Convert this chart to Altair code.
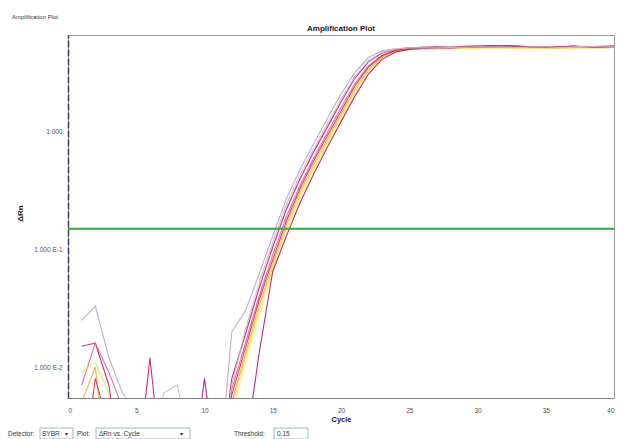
import altair as alt
import pandas as pd

cycles = list(range(1, 41))

series_names = ["W1", "W2", "W3", "W4", "W5", "W6", "W7", "W8", "W9"]
series_colors = ["#c2186f", "#e2619b", "#e8e24c", "#eab03c", "#b9a4cc",
                 "#d42c4e", "#f2ee86", "#a8187c", "#d9b3c9"]

w1 = [0.015, 0.016, 0.007, 0.001, 0.001, 0.012, 0.001, 0.001, 0.001, 0.001, 0.001,
      0.008, 0.019, 0.047, 0.105, 0.22, 0.40, 0.68, 1.1, 1.8, 2.85, 3.95, 4.7, 5.05, 5.2,
      5.25, 5.3, 5.25, 5.35, 5.4, 5.45, 5.4, 5.35, 5.3, 5.3, 5.25, 5.35, 5.3, 5.35, 5.4]
w2 = [0.007, 0.016, 0.009, 0.0045, 0.001, 0.001, 0.001, 0.001, 0.001, 0.001, 0.001,
      0.0065, 0.016, 0.040, 0.09, 0.19, 0.35, 0.60, 0.98, 1.6, 2.55, 3.65, 4.5, 4.95, 5.1,
      5.15, 5.2, 5.2, 5.25, 5.3, 5.35, 5.3, 5.3, 5.25, 5.2, 5.25, 5.3, 5.3, 5.25, 5.3]
w3 = [0.009, 0.011, 0.006, 0.001, 0.001, 0.001, 0.001, 0.001, 0.001, 0.001, 0.001,
      0.0045, 0.012, 0.030, 0.070, 0.15, 0.29, 0.50, 0.82, 1.35, 2.2, 3.3, 4.3, 4.85, 5.05,
      5.1, 5.1, 5.15, 5.15, 5.2, 5.2, 5.2, 5.15, 5.2, 5.15, 5.2, 5.25, 5.2, 5.25, 5.25]
w4 = [0.005, 0.010, 0.001, 0.001, 0.001, 0.001, 0.001, 0.001, 0.001, 0.001, 0.001,
      0.005, 0.013, 0.033, 0.076, 0.163, 0.31, 0.53, 0.87, 1.42, 2.3, 3.4, 4.35, 4.9, 5.05,
      5.1, 5.15, 5.15, 5.2, 5.2, 5.25, 5.2, 5.2, 5.2, 5.25, 5.15, 5.2, 5.25, 5.2, 5.25]
w5 = [0.025, 0.033, 0.012, 0.006, 0.004, 0.001, 0.001, 0.001, 0.001, 0.001, 0.001,
      0.02, 0.03, 0.062, 0.13, 0.27, 0.48, 0.80, 1.3, 2.1, 3.2, 4.3, 4.9, 5.1, 5.2,
      5.25, 5.25, 5.3, 5.3, 5.35, 5.3, 5.3, 5.25, 5.3, 5.25, 5.3, 5.3, 5.25, 5.3, 5.3]
w6 = [0.001, 0.008, 0.003, 0.001, 0.001, 0.001, 0.001, 0.001, 0.001, 0.001, 0.001,
      0.0058, 0.0145, 0.037, 0.082, 0.175, 0.33, 0.57, 0.93, 1.5, 2.45, 3.55, 4.45, 4.95, 5.15,
      5.2, 5.25, 5.25, 5.3, 5.35, 5.4, 5.45, 5.4, 5.3, 5.25, 5.3, 5.35, 5.3, 5.3, 5.35]
w7 = [0.001, 0.001, 0.001, 0.001, 0.001, 0.001, 0.001, 0.001, 0.001, 0.001, 0.001,
      0.004, 0.011, 0.027, 0.064, 0.14, 0.27, 0.47, 0.78, 1.28, 2.1, 3.2, 4.2, 4.8, 5.0,
      5.05, 5.1, 5.1, 5.15, 5.15, 5.2, 5.15, 5.2, 5.15, 5.2, 5.2, 5.15, 5.2, 5.2, 5.25]
w8 = [0.001, 0.001, 0.001, 0.001, 0.001, 0.001, 0.001, 0.001, 0.001, 0.008, 0.001,
      0.001, 0.002, 0.013, 0.065, 0.13, 0.25, 0.44, 0.74, 1.22, 2.0, 3.1, 4.15, 4.8, 5.05,
      5.15, 5.2, 5.2, 5.25, 5.3, 5.3, 5.35, 5.3, 5.3, 5.25, 5.3, 5.4, 5.3, 5.25, 5.3]
w9 = [0.001, 0.001, 0.001, 0.001, 0.001, 0.001, 0.006, 0.007, 0.002, 0.001, 0.001,
      0.007, 0.021, 0.052, 0.115, 0.24, 0.43, 0.72, 1.17, 1.9, 2.95, 4.05, 4.75, 5.1, 5.2,
      5.2, 5.2, 5.25, 5.25, 5.3, 5.3, 5.3, 5.25, 5.3, 5.3, 5.25, 5.3, 5.35, 5.3, 5.3]

series_values = [w1, w2, w3, w4, w5, w6, w7, w8, w9]

threshold = [0.15]
y_ticks = [0.01, 0.1, 1]
x_ticks = [0, 5, 10, 15, 20, 25, 30, 35, 40]

rows = []
for name, vals in zip(series_names, series_values):
    for c, v in zip(cycles, vals):
        rows.append({"series": name, "cycle": c, "drn": v})
df = pd.DataFrame(rows)

FONT = "Liberation Sans"
W, H = 546, 363

x_scale = alt.Scale(domain=[0, 40], nice=False, zero=False)
y_scale = alt.Scale(type="log", domain=[0.00545, 6.69], nice=False)

lines = alt.Chart(df).mark_line(strokeWidth=1.1, clip=True, opacity=0.9).encode(
    x=alt.X("cycle:Q", scale=x_scale,
            axis=alt.Axis(values=x_ticks, title="Cycle", grid=False, ticks=False,
                          labelFontSize=6.5, labelColor="#555", labelPadding=9,
                          titleFontSize=7.5, titleFontWeight="bold", titleColor="#223",
                          titlePadding=2, domainColor="#777", domainDash=[6, 2],
                          labelFont=FONT, titleFont=FONT)),
    y=alt.Y("drn:Q", scale=y_scale,
            axis=alt.Axis(values=y_ticks, title="ΔRn", grid=False, ticks=False,
                          labelExpr="datum.value > 0.5 ? '1.000' : (datum.value > 0.05 ? '1.000 E-1' : '1.000 E-2')",
                          labelFontSize=6.5, labelColor="#555", labelPadding=6,
                          titleFontSize=8, titleFontWeight="bold", titleColor="#223",
                          titleX=-44, titleY=178, domainColor="#3a3a66", domainWidth=1.5,
                          domainDash=[7, 2], labelFont=FONT, titleFont=FONT)),
    color=alt.Color("series:N", scale=alt.Scale(domain=series_names, range=series_colors),
                    legend=None),
    detail="series:N",
)

thr = alt.Chart(pd.DataFrame({"t": threshold})).mark_rule(
    color="#2eaa3c", strokeWidth=2).encode(y=alt.Y("t:Q", scale=y_scale))


def label(txt, x, y, size=6.5, weight="normal", align="left", color="#333"):
    return alt.Chart(pd.DataFrame({"s": [txt]})).mark_text(
        fontSize=size, fontWeight=weight, align=align, baseline="middle",
        color=color, font=FONT).encode(text="s:N", x=alt.value(x), y=alt.value(y))


def box(x1, x2, y1, y2):
    return alt.Chart(pd.DataFrame({"s": [""]})).mark_rect(
        fill="white", stroke="#8aa", strokeWidth=0.8).encode(
        x=alt.value(x1), x2=alt.value(x2), y=alt.value(y1), y2=alt.value(y2))


decor = [
    label("Amplification Plot", -56, -18, size=6),
    label("Amplification Plot", W / 2, -6, size=8, weight="bold", align="center",
          color="#222"),
    box(-28, 5, 393, 404), label("Detector:", -60, 398.5, size=6.5),
    label("SYBR", -26, 398.5, size=6.5), label("▾", -3, 398.5, size=6),
    label("Plot:", 9, 398.5, size=6.5),
    box(28, 122, 393, 404), label("ΔRn vs. Cycle", 31, 398.5, size=6.5),
    label("▾", 112, 398.5, size=6),
    label("Threshold:", 166, 398.5, size=6.5),
    box(206, 240, 393, 404), label("0.15", 209, 398.5, size=6.5),
]

chart = alt.layer(lines, thr, *decor).properties(
    width=W, height=H,
    autosize=alt.AutoSizeParams(type="none"),
    padding={"left": 60, "top": 27, "right": 8, "bottom": 41},
).configure_view(stroke="#999", strokeWidth=1)

chart.save("out.html", embed_options={"renderer": "svg", "actions": False})
